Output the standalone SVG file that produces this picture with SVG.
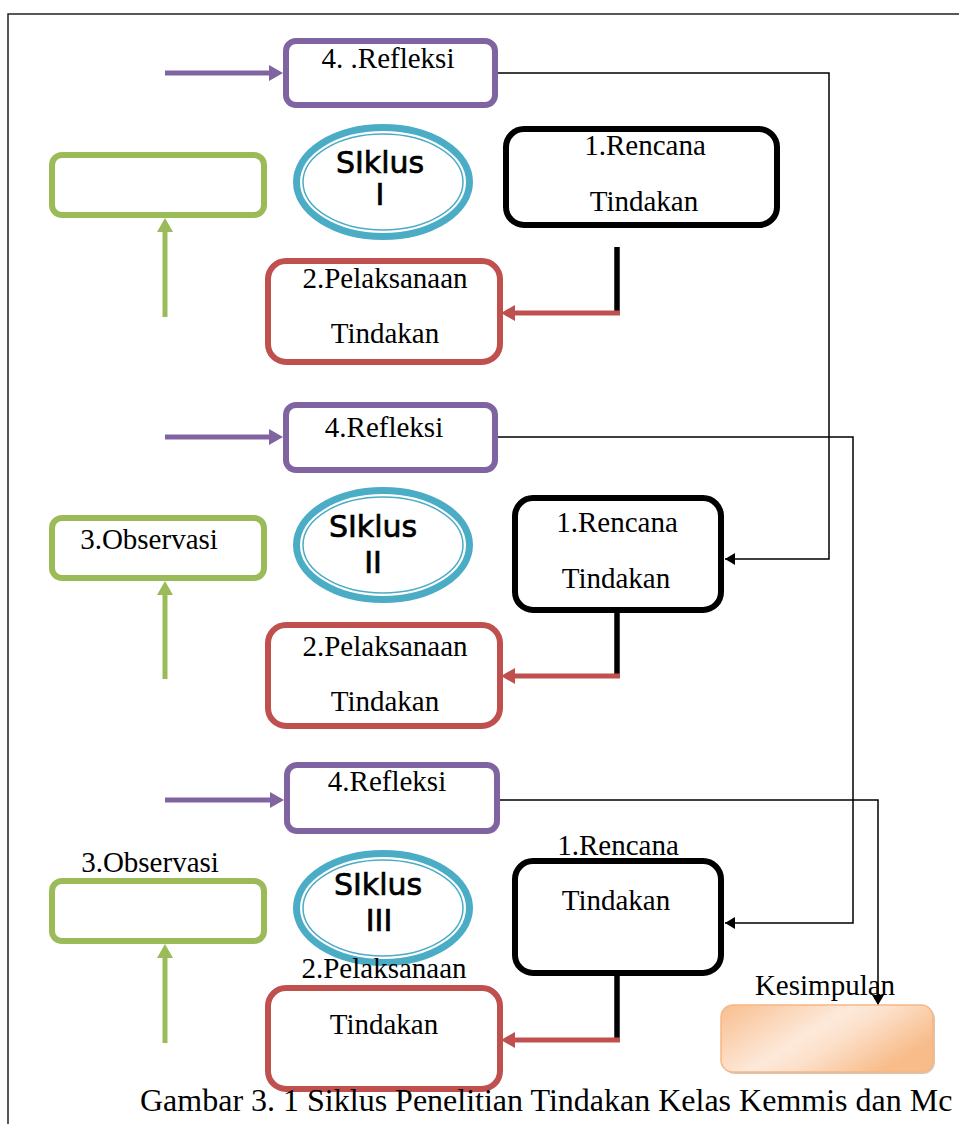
<svg xmlns="http://www.w3.org/2000/svg" width="959" height="1124" viewBox="0 0 959 1124">
<style>
.t{font-family:"Liberation Serif","Times New Roman",serif;font-size:29px;fill:#000;text-anchor:middle}
.cap{font-family:"Liberation Serif","Times New Roman",serif;font-size:32px;fill:#000}
.sk{font-family:"DejaVu Sans",Verdana,sans-serif;font-size:30px;fill:#000;stroke:#000;stroke-width:0.7;text-anchor:middle}
.pur{fill:#fff;stroke:#8064A2;stroke-width:6}
.grn{fill:#fff;stroke:#9BBB59;stroke-width:6}
.red{fill:#fff;stroke:#C0504D;stroke-width:6}
.blk{fill:#fff;stroke:#000;stroke-width:6}
.ring{fill:#fff;stroke:#4BACC6;stroke-width:7}
.ring2{fill:none;stroke:#4BACC6;stroke-width:1.5}
.thin{fill:none;stroke:#000;stroke-width:1.5}
.pa{fill:none;stroke:#8064A2;stroke-width:5}
.ga{fill:none;stroke:#9BBB59;stroke-width:5}
.ra{fill:none;stroke:#C0504D;stroke-width:5}
.ba{fill:none;stroke:#000;stroke-width:5.5}
</style>
<defs>
<marker id="mb" markerUnits="userSpaceOnUse" viewBox="0 0 10 12" refX="10" refY="6" markerWidth="10" markerHeight="12" orient="auto"><path d="M0,0 L10,6 L0,12 z" fill="#000"/></marker>
<marker id="mp" markerUnits="userSpaceOnUse" viewBox="0 0 14 16" refX="6" refY="8" markerWidth="14" markerHeight="16" orient="auto"><path d="M0,0 L14,8 L0,16 z" fill="#8064A2"/></marker>
<marker id="mg" markerUnits="userSpaceOnUse" viewBox="0 0 14 16" refX="6" refY="8" markerWidth="14" markerHeight="16" orient="auto"><path d="M0,0 L14,8 L0,16 z" fill="#9BBB59"/></marker>
<marker id="mr" markerUnits="userSpaceOnUse" viewBox="0 0 14 16" refX="6" refY="8" markerWidth="14" markerHeight="16" orient="auto"><path d="M0,0 L14,8 L0,16 z" fill="#C0504D"/></marker>
<linearGradient id="kg" x1="0" y1="0" x2="1" y2="0.5">
<stop offset="0" stop-color="#F8BE8E"/>
<stop offset="0.5" stop-color="#FDE9DA"/>
<stop offset="0.65" stop-color="#FCE1CB"/>
<stop offset="1" stop-color="#F8BC8A"/>
</linearGradient>
</defs>
<rect width="959" height="1124" fill="#fff"/>
<path d="M8,1124 V14 H959" fill="none" stroke="#222" stroke-width="1.5"/>

<g id="connectors">
<path class="thin" d="M498,73 H829 V559 H725" marker-end="url(#mb)"/>
<path class="thin" d="M498,437 H853 V923 H725" marker-end="url(#mb)"/>
<path class="thin" d="M500,800 H878 V1005" marker-end="url(#mb)"/>
<path class="pa" d="M165,73 H275" marker-end="url(#mp)"/>
<path class="pa" d="M165,437 H275" marker-end="url(#mp)"/>
<path class="pa" d="M165,800 H276" marker-end="url(#mp)"/>
<path class="ga" d="M165,317 V226" marker-end="url(#mg)"/>
<path class="ga" d="M165,679 V589" marker-end="url(#mg)"/>
<path class="ga" d="M165,1043 V952" marker-end="url(#mg)"/>
<path class="ba" d="M617,247 V313"/>
<path class="ba" d="M617,613 V676"/>
<path class="ba" d="M617,976 V1040"/>
<path class="ra" d="M620,313 H509" marker-end="url(#mr)"/>
<path class="ra" d="M620,676 H509" marker-end="url(#mr)"/>
<path class="ra" d="M620,1040 H509" marker-end="url(#mr)"/>
</g>

<g id="refleksi-1"><rect class="pur" x="286" y="41" width="209" height="64" rx="10"/><text class="t" x="388" y="68">4. .Refleksi</text></g>
<g id="observasi-1"><rect class="grn" x="52" y="155" width="212" height="60" rx="10"/></g>
<g id="siklus-1"><ellipse class="ring" cx="383" cy="182" rx="86.5" ry="54.5"/><ellipse class="ring2" cx="383" cy="182" rx="80" ry="48"/><text class="sk" x="380" y="173">SIklus</text><text class="sk" x="380" y="205">I</text></g>
<g id="rencana-1"><rect class="blk" x="506" y="129" width="271" height="96" rx="18"/><text class="t" x="645" y="155">1.Rencana</text><text class="t" x="644" y="211">Tindakan</text></g>
<g id="pelaksanaan-1"><rect class="red" x="268" y="261" width="232" height="101" rx="18"/><text class="t" x="385" y="288">2.Pelaksanaan</text><text class="t" x="385" y="343">Tindakan</text></g>

<g id="refleksi-2"><rect class="pur" x="286" y="405" width="209" height="65" rx="10"/><text class="t" x="384" y="437">4.Refleksi</text></g>
<g id="observasi-2"><rect class="grn" x="52" y="518" width="212" height="60" rx="10"/><text class="t" x="149" y="549">3.Observasi</text></g>
<g id="siklus-2"><ellipse class="ring" cx="383" cy="545" rx="86.5" ry="54.5"/><ellipse class="ring2" cx="383" cy="545" rx="80" ry="48"/><text class="sk" x="373" y="537">SIklus</text><text class="sk" x="373" y="573">II</text></g>
<g id="rencana-2"><rect class="blk" x="515" y="498" width="206" height="112" rx="18"/><text class="t" x="617" y="532">1.Rencana</text><text class="t" x="616" y="588">Tindakan</text></g>
<g id="pelaksanaan-2"><rect class="red" x="268" y="625" width="232" height="101" rx="18"/><text class="t" x="385" y="656">2.Pelaksanaan</text><text class="t" x="385" y="711">Tindakan</text></g>

<g id="refleksi-3"><rect class="pur" x="287" y="765" width="210" height="66" rx="10"/><text class="t" x="387" y="791">4.Refleksi</text></g>
<g id="observasi-3"><rect class="grn" x="52" y="881" width="212" height="60" rx="10"/><text class="t" x="150" y="872">3.Observasi</text></g>
<g id="siklus-3"><ellipse class="ring" cx="383" cy="908" rx="86.5" ry="54.5"/><ellipse class="ring2" cx="383" cy="908" rx="80" ry="48"/><text class="sk" x="378" y="895">SIklus</text><text class="sk" x="379" y="931">III</text></g>
<g id="rencana-3"><rect class="blk" x="515" y="861" width="206" height="112" rx="18"/><text class="t" x="618" y="855">1.Rencana</text><text class="t" x="616" y="910">Tindakan</text></g>
<g id="pelaksanaan-3"><rect class="red" x="268" y="988" width="232" height="101" rx="18"/><text class="t" x="384" y="978">2.Pelaksanaan</text><text class="t" x="384" y="1034">Tindakan</text></g>

<g id="kesimpulan"><rect x="723" y="1007" width="212" height="67" rx="12" fill="#B98A66" opacity="0.5"/><rect x="721" y="1005" width="212" height="67" rx="12" fill="url(#kg)" stroke="#F7B783" stroke-width="1.5"/><text class="t" x="825" y="995">Kesimpulan</text></g>

<text class="cap" x="140" y="1111">Gambar 3. 1 Siklus Penelitian Tindakan Kelas Kemmis dan Mc</text>
</svg>
